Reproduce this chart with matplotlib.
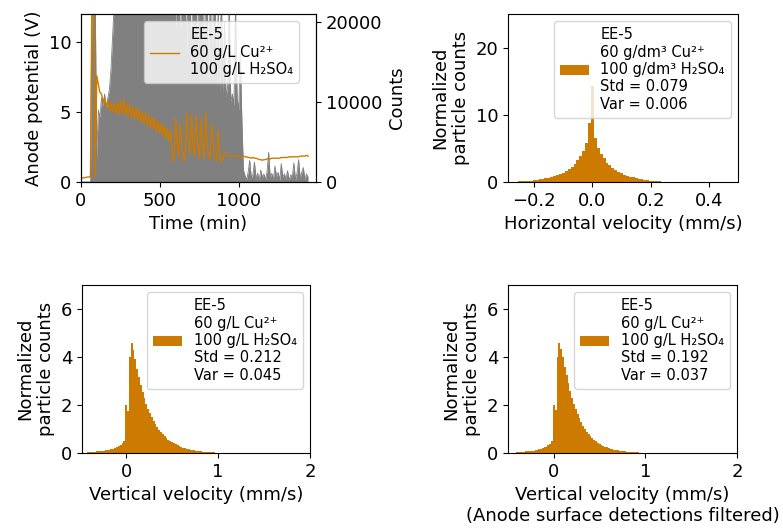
import numpy as np
import matplotlib.pyplot as plt

plt.rcParams['font.size'] = 13
plt.rcParams['legend.fontsize'] = 10.5

ORANGE = '#cc7a00'

# anode potential and particle counts, one value every 10 min
time_min = np.arange(0, 1441, 10)
potential = [0.3, 0.3, 0.3, 0.32, 0.35, 0.35, 0.4,
             14, 14, 0.3,
             7.6, 7.0, 6.4, 6.3, 5.7, 6.0, 5.4, 5.8, 5.1, 5.7, 5.0, 5.6, 4.9, 5.7, 4.8, 5.8, 4.9,
             5.9, 4.8, 5.6, 4.7, 5.5, 4.6, 5.4, 4.5, 5.3, 4.4, 5.2, 4.3, 5.0, 4.2, 4.9, 4.0, 4.8,
             3.9, 4.6, 3.8, 4.5, 3.6, 4.4, 3.4, 4.2, 3.3, 4.0, 3.1, 3.9, 2.9, 3.6, 1.5,
             1.6, 4.6, 2.8, 1.8, 4.2, 2.6, 1.7, 1.5, 5.0, 3.0, 2.0, 4.8, 2.7, 1.8, 4.8, 2.8,
             1.7, 4.5, 2.6, 1.6, 5.0, 2.8, 1.9, 1.6, 4.1, 2.5, 1.8, 1.5, 3.7, 2.2, 1.4, 1.8,
             2.1, 1.9, 1.8, 1.9, 1.9, 1.85, 1.9, 1.85, 1.8, 1.85, 1.8, 1.8, 1.85, 1.8, 1.8,
             1.75, 1.75, 1.7, 1.75, 1.7, 1.7, 1.65, 1.6, 1.6, 1.55, 1.6, 1.6, 1.65, 1.65, 1.65,
             1.7, 1.7, 1.7, 1.7, 1.7, 1.7, 1.75, 1.75, 1.75, 1.75, 1.75, 1.8, 1.8, 1.8, 1.8,
             1.8, 1.8, 1.8, 1.85, 1.85, 1.85, 1.85, 1.9, 1.85]
counts = [0, 0, 0, 0, 0, 0, 0,
          24000, 25000, 24000,
          3000, 9000, 8000, 10500, 9500, 11000, 9000, 10500, 11500, 14000, 18000, 22000,
          25000, 24000, 25000, 23000, 25000, 24000, 25000, 25000, 24000, 25000,
          23000, 25000, 25000, 24000, 25000, 25000, 23000, 25000, 24000, 25000,
          25000, 24000, 25000, 23000, 25000, 25000, 24000, 25000, 25000, 23000,
          25000, 24000, 25000, 25000, 24000, 25000, 22000, 25000,
          19000, 25000, 25000, 17000, 25000, 24000, 25000, 16000, 25000, 25000,
          15000, 25000, 24000, 25000, 14000, 25000, 22000, 25000, 13000, 25000,
          24000, 12500, 25000, 13000, 23000, 25000, 12000, 22000, 11500, 24000,
          11000, 20000, 10500, 12000, 23000, 10000, 11000, 9500, 22000, 10500,
          9000, 16000, 8000, 1500,
          800, 300, 1200, 2700, 500, 900, 2500, 400, 1100, 200,
          1500, 600, 1000, 300, 1300, 3700, 500, 1100, 300, 2000,
          700, 1200, 200, 2300, 600, 1000, 400, 1400, 200, 900,
          600, 2400, 300, 1100, 2800, 500, 1200, 1800, 300, 1000, 600]

legend_short = 'EE-5\n60 g/L Cu\u00b2\u207a\n100 g/L H\u2082SO\u2084'

# horizontal velocity histogram (normalized)
hvel_edges = np.linspace(-0.275, 0.265, 55)
hvel_density = [0.03, 0.05, 0.08, 0.10, 0.13, 0.17, 0.22, 0.27, 0.32, 0.38,
                0.45, 0.53, 0.62, 0.72, 0.85, 1.0, 1.15, 1.35, 1.6, 1.9,
                2.3, 2.7, 3.2, 3.8, 4.6, 5.8, 8.8,
                14.3,
                6.5, 5.0, 4.2, 3.5, 2.9, 2.5, 2.1, 1.8, 1.5, 1.3,
                1.1, 0.95, 0.8, 0.68, 0.57, 0.48, 0.4, 0.33, 0.27, 0.22,
                0.17, 0.13, 0.1, 0.07, 0.05, 0.03]
hvel_stats = ('0.079', '0.006')

# vertical velocity histograms (all / anode surface filtered)
vvel_edges = np.linspace(-0.43, 1.05, 75)
vvel_density = [0.03, 0.04, 0.05, 0.05, 0.06, 0.07, 0.08, 0.08, 0.09, 0.10, 0.11,
                0.12, 0.14, 0.16, 0.18, 0.21, 0.24, 0.28, 0.33, 0.4, 0.5,
                2.0, 1.75, 4.0, 4.6, 4.3, 3.9, 3.5, 3.15, 2.85, 2.55,
                2.3, 2.05, 1.85, 1.65, 1.5, 1.35, 1.2, 1.08, 0.97, 0.87,
                0.78, 0.7, 0.63, 0.56, 0.5, 0.45, 0.4, 0.36, 0.32, 0.28,
                0.25, 0.22, 0.2, 0.18, 0.16, 0.14, 0.12, 0.11, 0.1, 0.09,
                0.08, 0.07, 0.06, 0.05, 0.05, 0.04, 0.04, 0.03, 0.03, 0.02,
                0.02, 0.02, 0.01]
vvel_stats = ('0.212', '0.045')
vvel_filt_density = [0.02, 0.03, 0.04, 0.04, 0.05, 0.06, 0.07, 0.07, 0.08, 0.09, 0.10,
                     0.11, 0.13, 0.15, 0.17, 0.2, 0.23, 0.27, 0.32, 0.38, 0.48,
                     2.0, 1.8, 4.0, 4.6, 4.35, 4.0, 3.6, 3.25, 2.9, 2.6,
                     2.3, 2.05, 1.82, 1.62, 1.44, 1.28, 1.13, 1.0, 0.89, 0.79,
                     0.7, 0.62, 0.55, 0.49, 0.43, 0.38, 0.34, 0.3, 0.26, 0.23,
                     0.2, 0.18, 0.16, 0.14, 0.12, 0.11, 0.1, 0.09, 0.08, 0.07,
                     0.06, 0.05, 0.05, 0.04, 0.04, 0.03, 0.03, 0.02, 0.02, 0.02,
                     0.01, 0.01, 0.01]
vvel_filt_stats = ('0.192', '0.037')


def hist_panel(ax, edges, dens, stats, conc_unit, xlabel):
    label = ('EE-5\n60 %s Cu\u00b2\u207a\n100 %s H\u2082SO\u2084\nStd = %s\nVar = %s'
             % (conc_unit, conc_unit, stats[0], stats[1]))
    ax.stairs(dens, edges, fill=True, color=ORANGE, label=label)
    ax.set_xlabel(xlabel)
    ax.set_ylabel('Normalized\nparticle counts')
    ax.legend(loc='upper right')


fig = plt.figure(figsize=(7.83, 5.30), dpi=100)

# potential vs time with particle counts
ax1 = fig.add_axes([0.1034, 0.6566, 0.3001, 0.317])
ax1b = ax1.twinx()
ax1b.fill_between(time_min, counts, color='grey', lw=0)
ax1b.plot(time_min, counts, color='grey', lw=0.6)
ax1b.set_ylim(0, 21000)
ax1b.set_yticks([0, 10000, 20000])
ax1b.set_ylabel('Counts')
ax1.plot(time_min, potential, color=ORANGE, lw=1, label=legend_short)
ax1.set_zorder(ax1b.get_zorder() + 1)
ax1.patch.set_visible(False)
ax1.set_xlim(0, 1490)
ax1.set_ylim(0, 12)
ax1.set_xlabel('Time (min)')
ax1.set_ylabel('Anode potential (V)')
ax1.legend(loc='upper right', bbox_to_anchor=(0.96, 1.0))

ax2 = fig.add_axes([0.6488, 0.6566, 0.2937, 0.317])
hist_panel(ax2, hvel_edges, hvel_density, hvel_stats, 'g/dm\u00b3',
           'Horizontal velocity (mm/s)')
ax2.set_xlim(-0.29, 0.5)
ax2.set_ylim(0, 25)
ax2.set_xticks([-0.2, 0.0, 0.2, 0.4])

ax3 = fig.add_axes([0.1047, 0.1453, 0.2912, 0.317])
hist_panel(ax3, vvel_edges, vvel_density, vvel_stats, 'g/L',
           'Vertical velocity (mm/s)')
ax3.set_xlim(-0.48, 2)
ax3.set_ylim(0, 7)
ax3.set_yticks([0, 2, 4, 6])

ax4 = fig.add_axes([0.6488, 0.1453, 0.2925, 0.317])
hist_panel(ax4, vvel_edges, vvel_filt_density, vvel_filt_stats, 'g/L',
           'Vertical velocity (mm/s)\n(Anode surface detections filtered)')
ax4.set_xlim(-0.5, 2)
ax4.set_ylim(0, 7)
ax4.set_yticks([0, 2, 4, 6])

fig.savefig('out.png', dpi=100)
